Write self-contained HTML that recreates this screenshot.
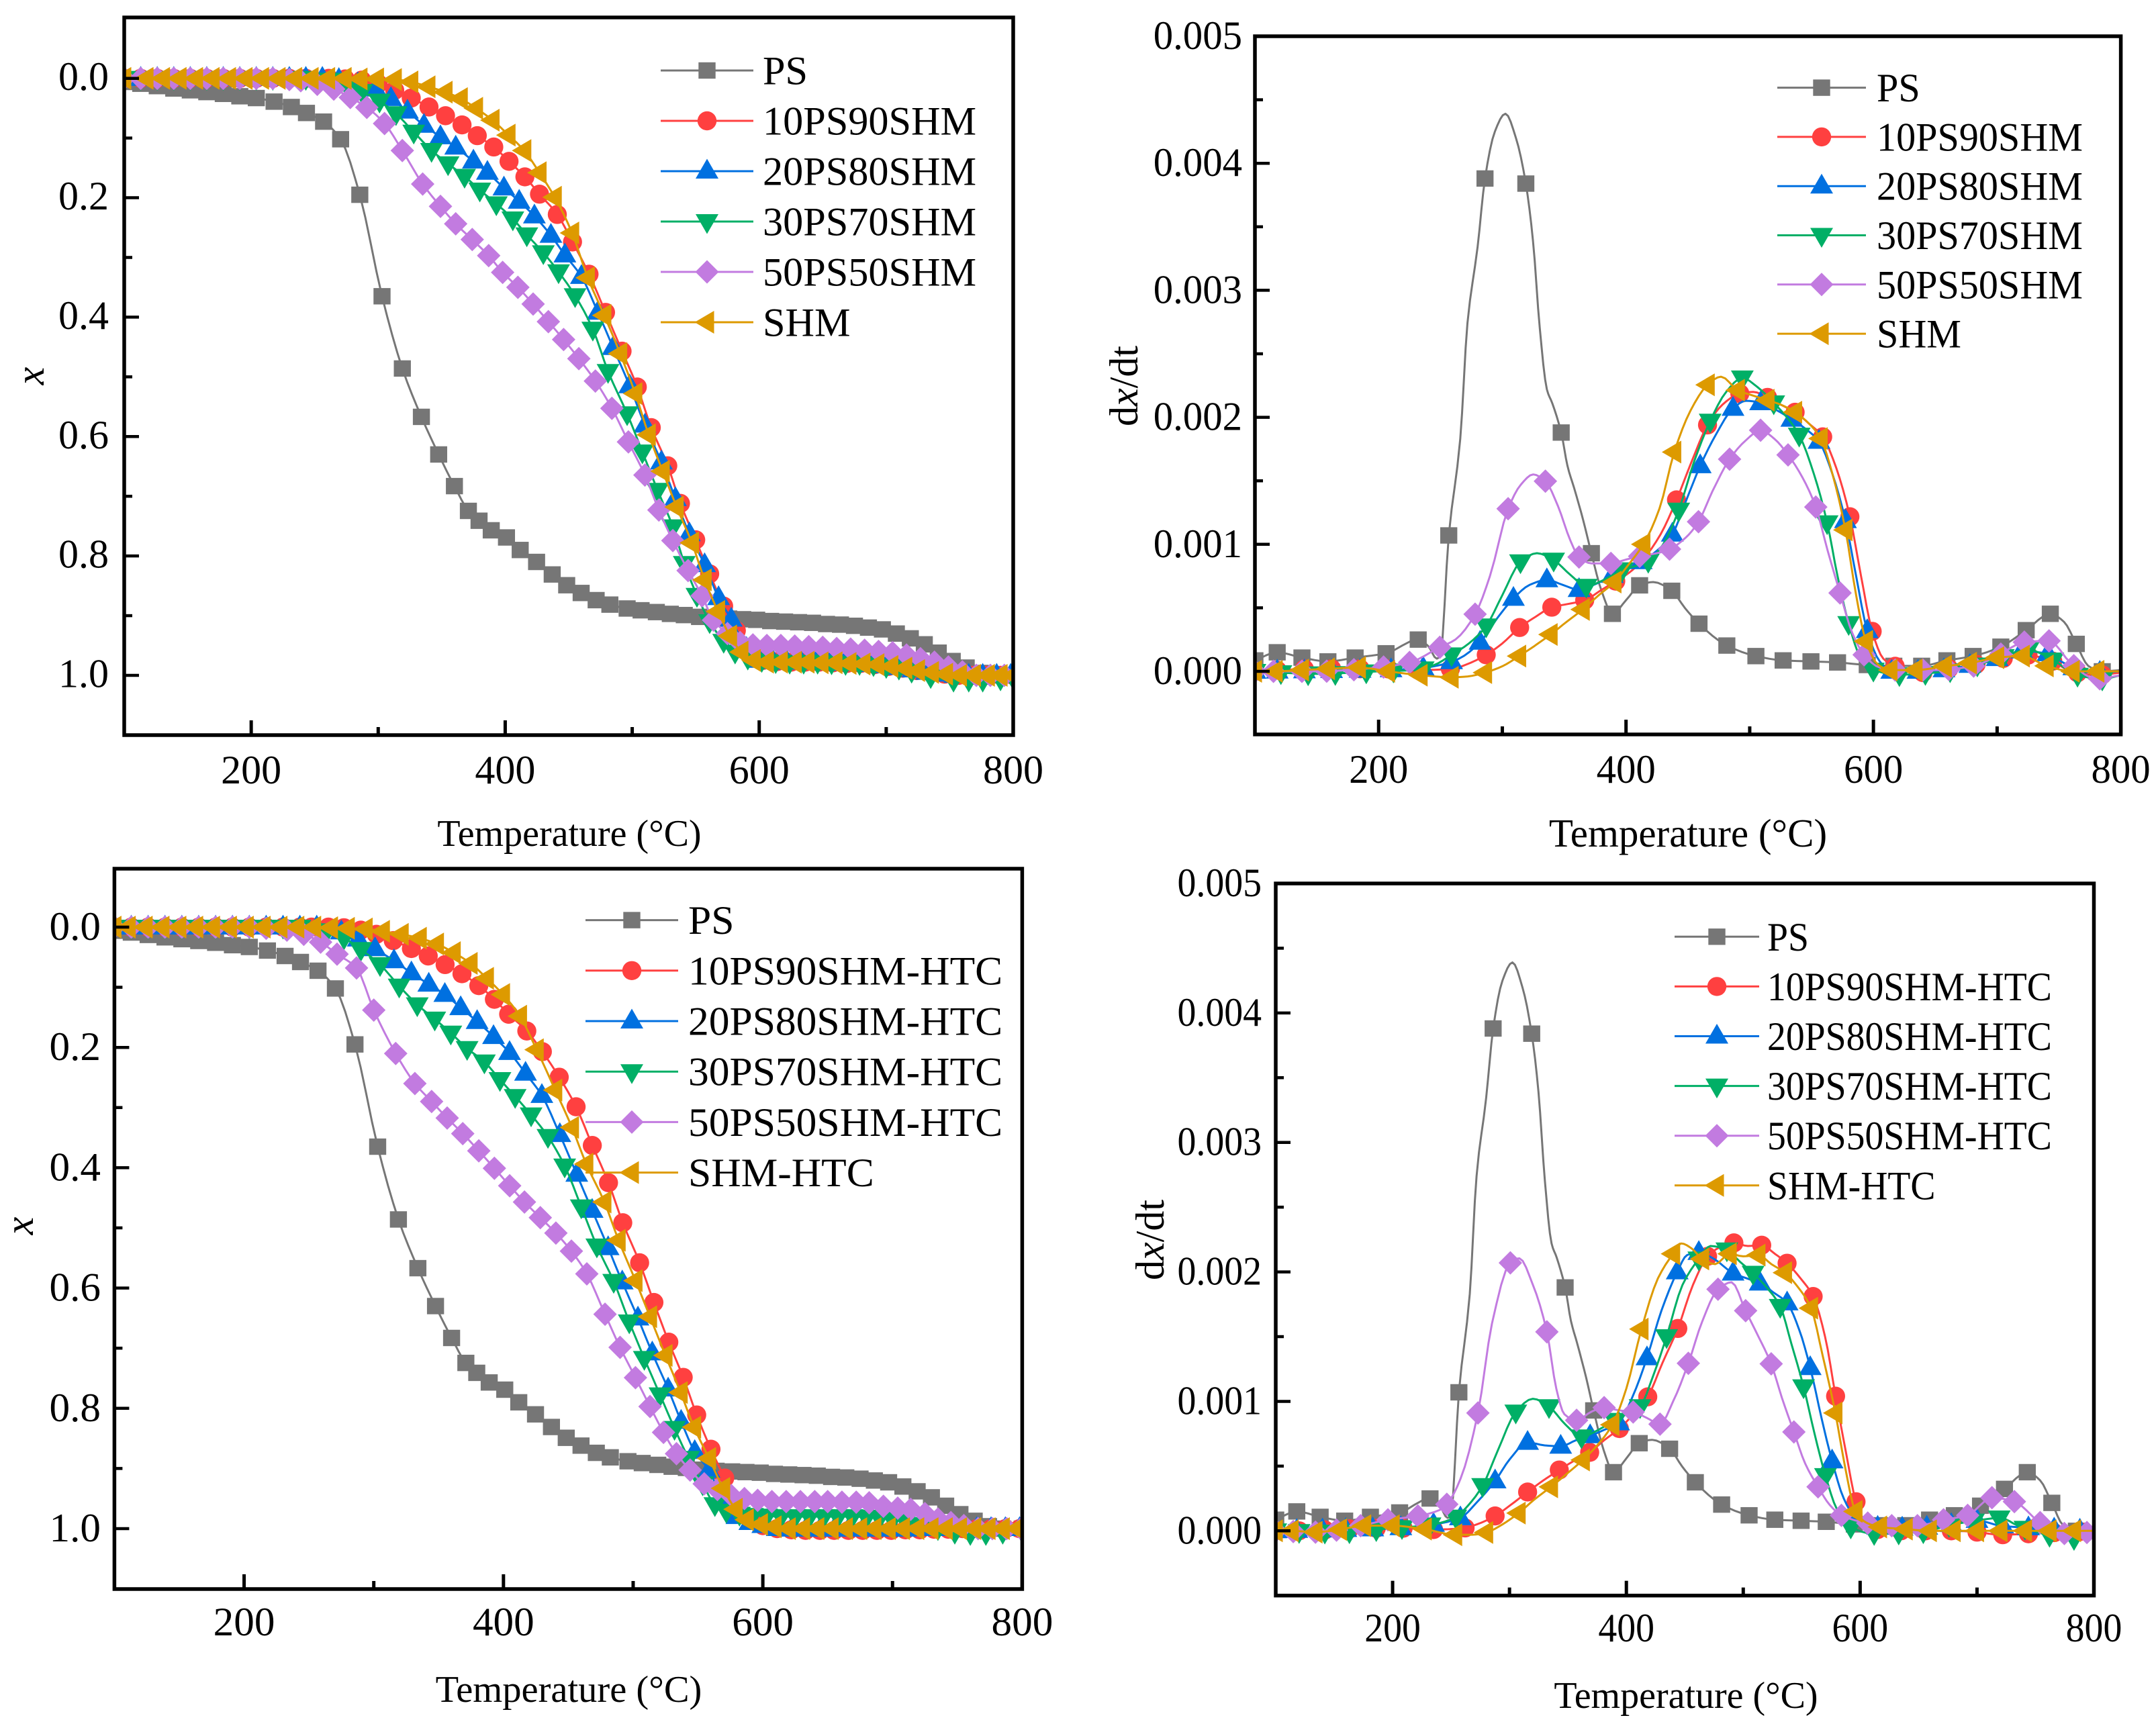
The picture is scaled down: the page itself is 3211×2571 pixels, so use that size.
<!DOCTYPE html>
<html lang="en">
<head>
<meta charset="utf-8">
<title>TG and DTG curves of PS/SHM blends</title>
<style>
html,body{margin:0;padding:0;background:#fff;}
svg{display:block;}
text{font-family:"Liberation Serif",serif;fill:#000;}
</style>
</head>
<body>
<svg id="figure" xmlns="http://www.w3.org/2000/svg" width="3211" height="2571" viewBox="0 0 3211 2571"></svg>
<script>
// ---- tick labels ----
const tempTickValues=[200,400,600,800];
const tempTickLabels=['200','400','600','800'];
const tempMinorValues=[300,500,700];
const conversionTickValues=[0,0.2,0.4,0.6,0.8,1.0];
const conversionTickLabels=['0.0','0.2','0.4','0.6','0.8','1.0'];
const conversionMinorValues=[0.1,0.3,0.5,0.7,0.9];
const rateTickValues=[0,1,2,3,4,5];
const rateTickLabels=['0.000','0.001','0.002','0.003','0.004','0.005'];
const rateMinorValues=[0.5,1.5,2.5,3.5,4.5];
const legendBlend=['PS','10PS90SHM','20PS80SHM','30PS70SHM','50PS50SHM','SHM'];
const legendHtc=['PS','10PS90SHM-HTC','20PS80SHM-HTC','30PS70SHM-HTC','50PS50SHM-HTC','SHM-HTC'];

// ---- conversion x(T): shared PS curve ----
const tgPsT=[100,113,126,139,152,165,178,191,204,218,231.6,243.5,257,270.4,285.5,303,319,334,347.6,360,371,379.4,389,401,411.8,424.7,437,448.4,459.8,471.6,482.4,496,507,519,530,541,553,564,576,587,598,609,620,631,642,653,664,675,686,697,708,719,730,741,752,763,774,785,800];
const tgPsX=[.006,.009,.013,.017,.02,.023,.026,.03,.033,.039,.048,.058,.0725,.102,.195,.365,.486,.567,.63,.683,.7245,.741,.757,.769,.79,.81,.831,.849,.862,.874,.8815,.888,.891,.894,.897,.899,.902,.904,.905,.906,.907,.909,.91,.911,.912,.914,.915,.917,.92,.923,.93,.938,.948,.962,.976,.987,.996,1,1];

// ---- conversion x(T): blends ----
const tgA10T=[100,113,126,139,152,165,178,191,204,217,230,243,261,274,287,300,313,326,340,353,366,378,391,403,415.5,427,441,453,466,479,492,504,515,528,538,550,561,572,582,592,603,614,625,636,647,658,669,680,691,702,713,724,735,746,757,768,779,790,800];
const tgA10X=[0,0,0,0,0,0,0,0,0,0,0,0,0,.001,.003,.009,.02,.033,.048,.0626,.078,.096,.115,.139,.165,.194,.228,.274,.328,.392,.457,.517,.585,.649,.712,.773,.83,.884,.925,.96,.975,.977,.978,.978,.978,.979,.98,.98,.982,.985,.988,.992,.995,.998,1,1,1,1,1];
const tgA20T=[100,113,126,139,152,165,178,191,204,217,230,243,256,269,284,298,310,323,336,349,361,375,386,399,411,423,436,447,460,473,485,498,510,523,534,545,557,568,578,590,600,611,622,633,644,655,666,677,688,699,710,721,732,743,754,765,776,787,798];
const tgA20X=[0,0,0,0,0,0,0,0,0,0,0,0,0,.002,.009,.018,.034,.055,.0787,.098,.1154,.1387,.1575,.1837,.206,.2306,.263,.296,.332,.392,.451,.515,.581,.6426,.704,.763,.8147,.87,.906,.955,.975,.977,.978,.978,.978,.979,.98,.98,.982,.984,.987,.991,.995,.998,1,1,1,1,1];
const tgA30T=[100,113,126,139,152,165,178,191,204,217,230,243,262,275,287,301,314,328,342,355,368,380,393,406,417,430,442,455,469,481,496,508,520,532,541,551,561,572,581,591,602,613,624,635,646,657,668,679,690,700,710,720,735,753,765,776,790,800];
const tgA30X=[0,0,0,0,0,0,0,0,0,0,0,0,.003,.01,.022,.038,.059,.09,.1207,.143,.164,.187,.21,.2354,.262,.292,.324,.364,.42,.491,.5617,.6257,.69,.751,.8125,.866,.91,.943,.961,.971,.975,.977,.978,.978,.978,.979,.98,.98,.982,.985,.988,.993,1.002,1.008,1.008,1.008,1.006,1.004];
const tgA50T=[100,113,126,139,152,165,178,191,204,217,230,239,252,265,278,291,305,319,335,349,361,374,387,398,410,422,434,446,458,471,484,497,510,521,532,544,555,564,575,585,595,606,617,628,639,650,661,672,683,694,705,716,727,738,749,760,771,782,793];
const tgA50X=[0,0,0,0,0,0,0,0,0,0,.002,.004,.01,.018,.032,.0487,.0757,.121,.177,.2144,.2437,.27,.297,.325,.35,.378,.4075,.4375,.4695,.507,.5527,.609,.6645,.723,.7743,.8245,.8668,.9075,.93,.945,.949,.95,.95,.951,.952,.953,.955,.956,.958,.96,.962,.966,.972,.978,.986,.994,1,1,1];
const tgAShmT=[100,117.5,130.5,143.5,156.5,169.5,182.5,195.5,208.5,221.5,234.5,247.5,260.5,273.5,286,299,313,326,339.5,353,365,377,390,402.6,415,427,439,452.7,465,478,490.5,502.4,513,524,535,547,557,567.6,577,586,595.7,606,617,628,638,649,660,671,682,693,704,715,725,736,747,758,769,780,790,800];
const tgAShmX=[0,0,0,0,0,0,0,0,0,0,0,0,0,0,.001,.001,.002,.006,.014,.023,.034,.05,.07,.095,.121,.158,.199,.259,.334,.397,.461,.528,.597,.658,.718,.778,.84,.893,.934,.961,.975,.978,.978,.978,.978,.979,.979,.98,.981,.982,.985,.988,.992,.995,.998,1,1,1,1,1];

const tgC10T=[100,113,126,139,152,165,178,191,204,217,230,243,252,265,277,290,302,315,329,342,355,368,381,393,404,418,430,443,456,468.5,481,492,505,516,527.5,538.6,549,560,570.6,581,591,600,611,622,633,644,655,666,677,688,699,710,721,732,743,754,765,776,787,798];
const tgC10X=[0,0,0,0,0,0,0,0,0,0,0,0,0,0,.001,.005,.012,.0224,.0356,.048,.0623,.0775,.0973,.12,.1448,.1727,.207,.2495,.2987,.363,.425,.4915,.558,.624,.69,.7485,.811,.868,.916,.96,.985,.995,1,1.002,1.003,1.003,1.003,1.003,1.003,1.003,1.003,1.002,1.002,1.001,1.001,1,1,1,1,1];
const tgC20T=[100,113,126,139,152,165,178,191,204,217,230,243,256,275,288,301,315.6,329,342.4,354.8,367,379.7,392.3,404.7,417,429.6,443.5,456.5,468.4,480.7,491.6,503.7,514.7,527,537,547.5,558.5,570,580,590,600,611,622,633,644,655,666,677,688,699,710,721,732,743,754,765,776,787,798];
const tgC20X=[0,0,0,0,0,0,0,0,0,0,0,0,0,.008,.02,.036,.056,.0762,.095,.112,.134,.157,.182,.2086,.243,.28,.345,.411,.471,.533,.59,.65,.708,.768,.8217,.872,.903,.955,.98,.99,.995,1,1.001,1.001,1.001,1.001,1.001,1.001,1.001,1.001,1.001,1,1,1,1,1,1,1,1];
const tgC30T=[100,113,126,139,152,165,178,191,204,217,230,243,264,277,290,304.8,319.6,333.5,347,359.4,372,385.3,397.3,409,421.3,434.3,447.2,460,472,485,497,508.6,520.7,531.9,542.7,553.6,563,571.8,582,592,603,614,625,636,647,658,669,680,690,700,710,720,735,748,760,772,785,800];
const tgC30X=[0,0,0,0,0,0,0,0,0,0,0,0,.006,.018,.037,.0623,.098,.129,.1528,.176,.2018,.224,.2534,.2815,.312,.348,.397,.465,.53,.5888,.6563,.717,.7775,.8333,.883,.9256,.96,.971,.976,.978,.979,.98,.98,.98,.98,.98,.98,.981,.982,.985,.988,.993,1,1.006,1.008,1.008,1.006,1.004];
const tgC50T=[100,113,126,139,152,165,178,191,204,217,233,246,259,271.7,286.7,300,316.9,331.7,344.6,356.6,368.6,381,393,404.8,416.2,428.4,440.4,452.4,464.3,478.3,489.9,501.8,513,523.4,533.4,543.9,554.8,565,575.7,585.8,596,607,618,629,640,650,661,672,682,693,704,714,725,735,745,755,766,777,788,799];
const tgC50X=[0,0,0,0,0,0,0,0,0,.002,.005,.012,.025,.045,.068,.138,.21,.26,.29,.3174,.3433,.372,.401,.43,.457,.483,.5087,.5386,.5765,.6435,.6987,.749,.797,.84,.8755,.9026,.9256,.935,.945,.95,.953,.955,.955,.955,.955,.955,.956,.956,.957,.963,.966,.968,.975,.984,.99,.995,1,1,1,1];
const tgCShmT=[100,111,124,137,150,163,176,189,202,215,228,241,254,267,279.9,293.7,307,321.5,335.4,348.7,361.6,374.6,387.2,399.6,412.7,425.6,439.9,452.8,463.9,477.8,488.8,501.8,513,524.9,536.6,547,558.5,569.4,579,587.6,598.5,609,620,631,642,653,664,675,686,697,708,719,730,741,752,763,774,785,796,800];
const tgCShmX=[0,0,0,0,0,0,0,0,0,0,0,0,0,.001,.002,.003,.007,.012,.0184,.028,.0424,.0603,.0851,.112,.148,.2038,.271,.333,.394,.457,.5207,.5877,.6478,.712,.7737,.8314,.8833,.933,.9677,.9853,.993,.997,1,1,1,1,1,1,1,1,1,1,1,1,1,1,1,1,1,1];

// ---- dx/dt (unit 0.001): shared PS curve ----
const dtgPsT=[100,118,138,159,181,206,232,240,247,250,256.7,266,271.8,280,286,294,302.5,311,319,324.8,330.3,336,340.4,347.6,352.6,358,365.5,372,380.5,389,400,411,422,437,447.5,459,481.5,505,527,549.5,571,595,616.5,639,659.4,680.6,703,723.5,743,754,764,773.7,785,800];
const dtgPsV=[.086,.15,.108,.078,.108,.142,.25,.2,.1,.13,1.07,1.83,2.74,3.34,3.88,4.25,4.39,4.2,3.84,3.39,2.7,2.22,2.11,1.88,1.62,1.445,1.186,.93,.625,.453,.56,.677,.703,.634,.5,.375,.203,.12,.086,.078,.07,.05,.043,.043,.086,.12,.194,.324,.453,.39,.216,.043,0,.01];
const dtgPsMarks=[100,118,138,159,181,206,232,256.7,286,319,347.6,372,389,411,437,459,481.5,505,527,549.5,571,595,616.5,639,659.4,680.6,703,723.5,743,764,785];

// ---- dx/dt: blends ----
const dtgB10T=[100,150,200,230,260,270,287,300,314,327,340,353,366.6,380,391.7,403,414,428,440.8,453,465.9,478,492,503,514.4,525,536.7,548,559,570,581,590,599,608,617.6,640,660,680,700,720,740,760,780,800];
const dtgB10V=[0,.02,.02,.01,.02,.05,.13,.22,.345,.43,.505,.53,.56,.64,.71,.78,.884,1.08,1.35,1.65,1.94,2.1,2.187,2.2,2.157,2.1,2.04,1.95,1.846,1.6,1.217,.75,.315,.1,.04,-.01,.02,.05,.09,.13,.1,0,-.03,-.01];
const dtgB10Marks=[100,118,140,162,185,208,232,258,287,314,340,366.6,391.7,414,440.8,465.9,492,514.4,536.7,559,581,599,617.6,640,661,683,705,725,745,765,785];
const dtgB20T=[100,200,230,250,265,282,296,309,322,336,349,362,376,389,400,412.3,425,437.4,448,460,473,486.5,497,508.8,521,534,545,556,567,577.4,586,595,605,615,640,680,700,720,740,755,775,800];
const dtgB20V=[0,.01,.02,.05,.1,.229,.42,.574,.68,.72,.68,.643,.69,.755,.8,.863,.95,1.08,1.33,1.618,1.87,2.07,2.13,2.114,2.06,1.984,1.91,1.81,1.55,1.186,.75,.32,.08,0,0,.05,.1,.16,.14,.06,-.01,0];
const dtgB20Marks=[100,118,140,162,185,210,236,259,282,309,336,362,389,412.3,437.4,460,486.5,508.8,534,556,577.4,595,614.8,636,657,678,700,720,741,762,783];
const dtgB30T=[100,150,200,230,245,259,273,287,300,314.7,328,341.5,355,367.9,382,397,408,418,430,442.6,455,468,481,494,506,519.4,530,540,552,562.6,571,580,590,600,621,650,680,700,725,745,765,785,800];
const dtgB30V=[0,-.02,0,.01,.05,.13,.22,.358,.6,.863,.93,.876,.76,.67,.72,.8,.83,.867,1,1.27,1.65,1.97,2.2,2.31,2.24,2.114,2,1.86,1.55,1.17,.75,.377,.1,.01,-.026,-.01,.04,.1,.17,.09,-.03,-.06,-.03];
const dtgB30Marks=[100,121,143,165,190,212,236,259,287,314.7,341.5,367.9,397,418,442.6,468,494,519.4,540,562.6,580,600,621,642,662,684,705,725,745,765,785];
const dtgB50T=[100,150,200,225,249.5,262,278,290,304.7,315,325,334.8,345,355,362,372,387.8,400,411,425,435.2,448,458.6,470,483.7,497,508.8,520,531,543,553.4,563,573,583,592.5,605,617.6,650,680,700,722,742,760,780,800];
const dtgB50V=[0,0,.03,.07,.19,.25,.45,.75,1.28,1.47,1.55,1.497,1.3,1.03,.9,.85,.85,.88,.906,.93,.962,1.05,1.178,1.42,1.67,1.82,1.898,1.83,1.704,1.52,1.294,.95,.617,.3,.13,.03,.01,.01,.04,.12,.23,.24,.06,-.06,-.03];
const dtgB50Marks=[100,115,138,158,180,204,225,249.5,278,304.7,334.8,362,387.8,411,435.2,458.6,483.7,508.8,531,553.4,573,592.5,617.6,640,661,681,703,722,742,762,783];
const dtgBShmT=[100,116.7,138,159,184,207.6,233.9,259,272,286,300,313.6,326,339,352,365,378,390.6,402,414,427,439,452,466,476.8,490.4,503,514.4,525,536.7,548,557.3,567,577.4,586,594,604,613.7,634,657.7,678,700,720.7,740,761,781,800];
const dtgBShmV=[0,0,.01,.02,.03,0,-.03,-.047,-.04,-.01,.04,.12,.2,.29,.39,.487,.6,.703,.84,1,1.28,1.726,2.05,2.256,2.32,2.213,2.17,2.135,2.1,2.04,1.95,1.833,1.55,1.113,.6,.237,.05,.01,.01,.04,.065,.108,.12,.043,0,0,0];
const dtgBShmMarks=[100,116.7,138,159,184,207.6,233.9,259,286,313.6,339,365,390.6,414,439,466,490.4,514.4,536.7,557.3,577.4,594,613.7,634,657.7,678,700,720.7,740,761,781];

const dtgD10T=[100,120,150,180,210,235,260,272,287.7,301,315.5,329,342.6,355,368.6,381,394,406,418.3,431,444,457,469.5,480,492,504,515.8,527,537.5,549,559.8,570,579,588,596.5,606,615,640,680,700,720,750,800];
const dtgD10V=[0,0,.01,.02,.02,.01,.02,.05,.115,.2,.3,.39,.47,.54,.606,.7,.79,.9,1.035,1.3,1.563,1.9,2.12,2.19,2.224,2.2,2.206,2.14,2.067,1.95,1.81,1.5,1.04,.6,.225,.05,.01,0,0,-.01,-.03,-.02,0];
const dtgD10Marks=[100,120,142,163,186,209,235,262,287.7,315.5,342.6,368.6,394,418.3,444,469.5,492,515.8,537.5,559.8,579,596.5,615,635,656,678,700,722,744,766,788];
const dtgD20T=[100,200,235,258,272,287.7,300,315.5,330,343.8,357,369,381,393.4,405,417.6,430,443.5,452,462,475,491.3,503,514.4,526,537.5,548,557.3,567,576,586,596,610,640,680,700,720,750,800];
const dtgD20V=[0,.02,.05,.1,.22,.385,.55,.683,.66,.653,.7,.734,.78,.833,1.03,1.336,1.7,2,2.13,2.15,2.1,1.99,1.95,1.913,1.84,1.76,1.55,1.26,.87,.54,.25,.1,.03,.02,.05,.08,.04,.02,0];
const dtgD20Marks=[100,118,140,160,183,207,235,258,287.7,315.5,343.8,369,393.4,417.6,443.5,462,491.3,514.4,537.5,557.3,576,596,615,636,657,678,700,722,744,766,788];
const dtgD30T=[100,150,200,235,254,265,277,290,305.4,320,333.8,348,361.6,376,390,400,411.7,423,434.4,448,462,472,486,497,508.4,520,531.6,541,551.6,561,570.3,580,592,610,650,680,700,720,735,760,780,800];
const dtgD30V=[0,-.01,.02,.05,.107,.2,.35,.62,.918,1.02,.96,.82,.726,.78,.854,.9,.96,1.2,1.5,1.9,2.1,2.2,2.17,2.08,1.99,1.88,1.734,1.45,1.113,.75,.427,.17,.03,-.02,-.01,.05,.08,.1,.04,-.03,-.06,-.03];
const dtgD30Marks=[100,120,142,163,186,208,232,254,277,305.4,333.8,361.6,390,411.7,434.4,462,486,508.4,531.6,551.6,570.3,592,612,633,654,676,697,719,741,762,783];
const dtgD50T=[100,134,172.6,196,221.6,240,246.4,258,273,285,300.7,308.4,320,332,340,347,357.4,370,381,394,405.8,418,428.8,440,453,465,478.4,490,502,513,523.9,533,543.3,553,564,574,584,606.5,627,649,671.4,692,712.8,732,754,774.7,794,800];
const dtgD50V=[0,-.01,.04,.085,.115,.16,.205,.4,.91,1.6,2.07,2.105,1.9,1.537,1.1,.9,.854,.92,.952,.93,.918,.87,.824,1,1.294,1.62,1.866,1.92,1.7,1.5,1.29,1.03,.764,.52,.34,.2,.12,.06,.04,.04,.085,.12,.256,.226,.064,-.02,-.013,-.01];
const dtgD50Marks=[100,115,134,152,172.6,196,221.6,246.4,273,300.7,332,357.4,381,405.8,428.8,453,478.4,502,523.9,543.3,564,584,606.5,627,649,671.4,692,712.8,732,754,774.7,794];
const dtgDShmT=[100,113.6,134,155,175.6,200,227.5,253.5,268,280,294,307.8,321,335.5,349,362.7,375,388,400,412.9,427,440,447,456,464.8,476,488.4,500,513,524,535.7,547,558,568,578.8,587,596,606,617,639,659.6,700,750,800];
const dtgDShmV=[0,0,-.01,.01,.04,.04,.013,-.03,-.03,-.013,.05,.137,.24,.34,.44,.547,.66,.82,1.1,1.558,1.95,2.14,2.22,2.18,2.1,2.06,2.14,2.12,2.13,2.06,1.994,1.88,1.72,1.35,.91,.5,.15,.06,.03,.013,0,0,0,0];
const dtgDShmMarks=[100,113.6,134,155,175.6,200,227.5,253.5,280,307.8,335.5,362.7,388,412.9,440,464.8,488.4,513,535.7,558,578.8,596,617,639,659.6,680,700,720,741,762,783];

// ---- rendering ----
const SVGNS='http://www.w3.org/2000/svg';
const root=document.getElementById('figure');
const COLORS=['#767676','#ff4040','#0070e0','#00af66','#c27be0','#dd9a00'];
const SHAPES=['square','circle','up','down','diamond','left'];
const SLUGS=['ps','10ps90shm','20ps80shm','30ps70shm','50ps50shm','shm'];

function make(parent,tag,attrs){
  const e=document.createElementNS(SVGNS,tag);
  for(const k in attrs){e.setAttribute(k,attrs[k]);}
  parent.appendChild(e);
  return e;
}
function makeCurve(ts,vs){
  const n=ts.length,d=[],m=new Array(n);
  for(let i=0;i<n-1;i++){d.push((vs[i+1]-vs[i])/(ts[i+1]-ts[i]));}
  m[0]=d[0];m[n-1]=d[n-2];
  for(let i=1;i<n-1;i++){
    if(d[i-1]*d[i]<=0){m[i]=0;continue;}
    const h0=ts[i]-ts[i-1],h1=ts[i+1]-ts[i],w1=2*h1+h0,w2=h1+2*h0;
    m[i]=(w1+w2)/(w1/d[i-1]+w2/d[i]);
  }
  return function(t){
    if(t<=ts[0])return vs[0];
    if(t>=ts[n-1])return vs[n-1];
    let i=0;
    while(ts[i+1]<t)i++;
    const h=ts[i+1]-ts[i],s=(t-ts[i])/h,s2=s*s,s3=s2*s;
    return (2*s3-3*s2+1)*vs[i]+(s3-2*s2+s)*h*m[i]+(-2*s3+3*s2)*vs[i+1]+(s3-s2)*h*m[i+1];
  };
}
function drawMarker(parent,shape,cx,cy,color){
  let e;
  if(shape==='square'){
    e=make(parent,'rect',{x:cx-12.7,y:cy-12.2,width:25.4,height:24.4,fill:color});
  }else if(shape==='circle'){
    e=make(parent,'circle',{cx:cx,cy:cy,r:14.2,fill:color});
  }else{
    let p;
    if(shape==='up'){p=[[cx,cy-18.5],[cx+17,cy+11],[cx-17,cy+11]];}
    if(shape==='down'){p=[[cx,cy+18.5],[cx+17,cy-11],[cx-17,cy-11]];}
    if(shape==='diamond'){p=[[cx,cy-17.5],[cx+17.5,cy],[cx,cy+17.5],[cx-17.5,cy]];}
    if(shape==='left'){p=[[cx-18.5,cy],[cx+10.5,cy-17],[cx+10.5,cy+17]];}
    e=make(parent,'polygon',{points:p.map(q=>q[0].toFixed(1)+','+q[1].toFixed(1)).join(' '),fill:color});
  }
  return e;
}
function addText(parent,str,x,y,size,anchor,sx){
  const e=make(parent,'text',{transform:'translate('+x+','+y+') scale('+sx+',1)','font-size':size,'text-anchor':anchor});
  e.textContent=str;
  return e;
}

function drawPanel(cfg,idx){
  const g=make(root,'g',{});
  
  
  const xs=t=>cfg.left+(t-100)*(cfg.right-cfg.left)/700;
  const ys=v=>cfg.y0+(v-cfg.v0)*(cfg.y1-cfg.y0)/(cfg.v1-cfg.v0);

  const clipId='clip-'+idx;
  const defs=make(g,'defs',{});
  const clip=make(defs,'clipPath',{id:clipId});
  make(clip,'rect',{x:cfg.left,y:cfg.top,width:cfg.right-cfg.left,height:cfg.bottom-cfg.top});

  const plot=make(g,'g',{'clip-path':'url(#'+clipId+')'});
  
  
  cfg.series.forEach((s,i)=>{
    const curve=makeCurve(s.t,s.v);
    const sg=make(plot,'g',{});
    
    
    const pts=[];
    for(let k=0;k<s.t.length-1;k++){
      for(let j=0;j<4;j++){
        const t=s.t[k]+(s.t[k+1]-s.t[k])*j/4;
        pts.push(xs(t).toFixed(1)+','+ys(curve(t)).toFixed(1));
      }
    }
    pts.push(xs(s.t[s.t.length-1]).toFixed(1)+','+ys(s.v[s.v.length-1]).toFixed(1));
    const line=make(sg,'polyline',{points:pts.join(' '),fill:'none',stroke:COLORS[i],'stroke-width':3,'stroke-linejoin':'round'});
    
    
    (s.m||s.t).forEach(t=>{
      const mk=drawMarker(sg,SHAPES[i],xs(t),ys(curve(t)),COLORS[i]);
      
      
    });
  });

  const frame=make(g,'rect',{x:cfg.left,y:cfg.top,width:cfg.right-cfg.left,height:cfg.bottom-cfg.top,fill:'none',stroke:'#000','stroke-width':5.5});
  
  

  tempMinorValues.forEach(t=>{
    const k=make(g,'line',{x1:xs(t),x2:xs(t),y1:cfg.bottom,y2:cfg.bottom-12,stroke:'#000','stroke-width':5});
    
    
  });
  tempTickValues.forEach((t,i)=>{
    const k=make(g,'line',{x1:xs(t),x2:xs(t),y1:cfg.bottom,y2:cfg.bottom-22,stroke:'#000','stroke-width':5});
    
    
    const l=addText(g,tempTickLabels[i],xs(t),cfg.xLabelY,60,'middle',cfg.sx);
    
    
  });
  cfg.minorY.forEach(v=>{
    const k=make(g,'line',{x1:cfg.left,x2:cfg.left+12,y1:ys(v),y2:ys(v),stroke:'#000','stroke-width':4.5});
    
    
  });
  cfg.majorY.forEach((v,i)=>{
    const k=make(g,'line',{x1:cfg.left,x2:cfg.left+22,y1:ys(v),y2:ys(v),stroke:'#000','stroke-width':4.5});
    
    
    const l=addText(g,cfg.yLabels[i],cfg.yLabelX,ys(v)+cfg.yLabelDy,60,'end',cfg.sx);
    
    
  });

  const xt=addText(g,'Temperature (°C)',cfg.xTitleX,cfg.xTitleY,cfg.xTitleSize,'middle',1);
  
  

  const yt=make(g,'text',{transform:'translate('+cfg.yTitleX+','+cfg.yTitleY+') rotate(-90)','font-size':cfg.yTitleSize,'text-anchor':'middle'});
  
  
  cfg.yTitle.forEach(part=>{
    const ts=make(yt,'tspan',part[1]?{'font-style':'italic'}:{});
    ts.textContent=part[0];
  });

  const lg=make(g,'g',{});
  
  
  cfg.legend.forEach((label,i)=>{
    const y=cfg.legY+i*cfg.legStep;
    const eg=make(lg,'g',{});
    
    
    const ln=make(eg,'line',{x1:cfg.legX1,x2:cfg.legX2,y1:y,y2:y,stroke:COLORS[i],'stroke-width':3});
    
    
    const mk=drawMarker(eg,SHAPES[i],(cfg.legX1+cfg.legX2)/2,y,COLORS[i]);
    
    
    const tx=addText(eg,label,cfg.legTextX,y+20.5,60,'start',cfg.legSx);
    
    
  });
}

const tgMajor=conversionTickValues,tgMinor=conversionMinorValues;
const panels=[
 {name:'panel-conversion-blends',left:185,right:1509,top:26,bottom:1095,v0:0,v1:1,y0:116.7,y1:1006,
  majorY:tgMajor,minorY:tgMinor,yLabels:conversionTickLabels,yLabelX:162,yLabelDy:17.5,xLabelY:1167,sx:1,
  xTitleX:848,xTitleY:1260,xTitleSize:56,yTitleX:65,yTitleY:560,yTitleSize:60,yTitle:[['x',true]],
  legend:legendBlend,legX1:984,legX2:1122,legY:105,legStep:75,legTextX:1136,legSx:1.004,
  series:[{t:tgPsT,v:tgPsX},{t:tgA10T,v:tgA10X},{t:tgA20T,v:tgA20X},{t:tgA30T,v:tgA30X},{t:tgA50T,v:tgA50X},{t:tgAShmT,v:tgAShmX}]},
 {name:'panel-rate-blends',left:1869,right:3158.6,top:54,bottom:1094,v0:0,v1:5,y0:1000,y1:54,
  majorY:rateTickValues,minorY:rateMinorValues,yLabels:rateTickLabels,yLabelX:1850,yLabelDy:19,xLabelY:1166,sx:.98,
  xTitleX:2514,xTitleY:1261,xTitleSize:59,yTitleX:1694,yTitleY:575,yTitleSize:60,yTitle:[['d',false],['x',true],['/dt',false]],
  legend:legendBlend,legX1:2647,legX2:2779,legY:130.6,legStep:73.3,legTextX:2795,legSx:.969,
  series:[{t:dtgPsT,v:dtgPsV,m:dtgPsMarks},{t:dtgB10T,v:dtgB10V,m:dtgB10Marks},{t:dtgB20T,v:dtgB20V,m:dtgB20Marks},{t:dtgB30T,v:dtgB30V,m:dtgB30Marks},{t:dtgB50T,v:dtgB50V,m:dtgB50Marks},{t:dtgBShmT,v:dtgBShmV,m:dtgBShmMarks}]},
 {name:'panel-conversion-htc',left:170.4,right:1522.4,top:1294,bottom:2367,v0:0,v1:1,y0:1381,y1:2277,
  majorY:tgMajor,minorY:tgMinor,yLabels:conversionTickLabels,yLabelX:150,yLabelDy:19,xLabelY:2436,sx:1.02,
  xTitleX:847,xTitleY:2535,xTitleSize:56.5,yTitleX:49,yTitleY:1826,yTitleSize:60,yTitle:[['x',true]],
  legend:legendHtc,legX1:872,legX2:1010,legY:1370.6,legStep:75.2,legTextX:1025,legSx:1.025,
  series:[{t:tgPsT,v:tgPsX},{t:tgC10T,v:tgC10X},{t:tgC20T,v:tgC20X},{t:tgC30T,v:tgC30X},{t:tgC50T,v:tgC50X},{t:tgCShmT,v:tgCShmX}]},
 {name:'panel-rate-htc',left:1900,right:3118.5,top:1316,bottom:2376.7,v0:0,v1:5,y0:2280.3,y1:1316,
  majorY:rateTickValues,minorY:rateMinorValues,yLabels:rateTickLabels,yLabelX:1879,yLabelDy:19,xLabelY:2445,sx:.93,
  xTitleX:2511,xTitleY:2544,xTitleSize:56,yTitleX:1733,yTitleY:1847,yTitleSize:60,yTitle:[['d',false],['x',true],['/dt',false]],
  legend:legendHtc,legX1:2494,legX2:2620,legY:1395.3,legStep:74.1,legTextX:2632,legSx:.928,
  series:[{t:dtgPsT,v:dtgPsV,m:dtgPsMarks},{t:dtgD10T,v:dtgD10V,m:dtgD10Marks},{t:dtgD20T,v:dtgD20V,m:dtgD20Marks},{t:dtgD30T,v:dtgD30V,m:dtgD30Marks},{t:dtgD50T,v:dtgD50V,m:dtgD50Marks},{t:dtgDShmT,v:dtgDShmV,m:dtgDShmMarks}]}
];
panels.forEach(drawPanel);
</script>
</body>
</html>
